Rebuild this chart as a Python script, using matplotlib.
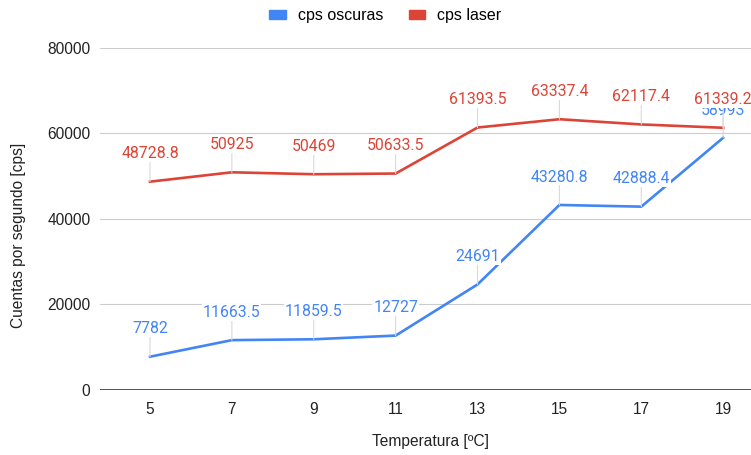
import matplotlib
matplotlib.use("Agg")
import matplotlib.pyplot as plt
from matplotlib.patches import Patch

temperatures = [5, 7, 9, 11, 13, 15, 17, 19]
cps_oscuras = [7782, 11663.5, 11859.5, 12727, 24691, 43280.8, 42888.4, 58993]
cps_laser = [48728.8, 50925, 50469, 50633.5, 61393.5, 63337.4, 62117.4, 61339.2]
y_ticks = [0, 20000, 40000, 60000, 80000]

BLUE = "#4285F4"
RED = "#DB4437"

fig = plt.figure(figsize=(7.51, 4.55), dpi=100)
ax = fig.add_axes([0.1332, 0.1429, 0.8668, 0.7516])

ax.set_xlim(3.78, 19.68)
ax.set_ylim(0, 80000)

# grid
for yt in y_ticks[1:]:
    ax.axhline(yt, color="#cccccc", lw=0.8, zorder=0)
ax.axhline(0, color="#333333", lw=1.2, zorder=1)

ax.plot(temperatures, cps_oscuras, color=BLUE, lw=1.9, zorder=3,
        solid_joinstyle="round", label="cps oscuras")
ax.plot(temperatures, cps_laser, color=RED, lw=1.9, zorder=3,
        solid_joinstyle="round", label="cps laser")


def fmt(v):
    return f"{v:g}"


def add_labels(values, color, z):
    for x, v in zip(temperatures, values):
        ax.annotate(fmt(v), xy=(x, v), xytext=(0, 20), textcoords="offset points",
                    ha="center", va="center", color=color, fontsize=11.4,
                    family="Roboto", zorder=z,
                    bbox=dict(boxstyle="square,pad=0.05", fc="white", ec="none"),
                    arrowprops=dict(arrowstyle="-", color="#d9d9d9", lw=0.8,
                                    shrinkA=0, shrinkB=0))


add_labels(cps_oscuras, BLUE, 4)
add_labels(cps_laser, RED, 5)

for s in ax.spines.values():
    s.set_visible(False)

ax.set_yticks(y_ticks)
ax.set_yticklabels([str(t) for t in y_ticks], family="Liberation Sans",
                   fontsize=11.2, color="#222222")
ax.set_xticks(temperatures)
ax.set_xticklabels([str(t) for t in temperatures], family="Liberation Sans",
                   fontsize=11.2, color="#222222")
ax.tick_params(axis="both", length=0)
ax.tick_params(axis="y", pad=7)
ax.tick_params(axis="x", pad=9)

fig.text(0.573, 0.03, "Temperatura [ºC]", ha="center", va="center",
         family="Liberation Sans", fontsize=11.2, color="#222222")
fig.text(0.024, 0.483, "Cuentas por segundo [cps]", ha="center", va="center",
         rotation=90, family="Liberation Sans", fontsize=11.2, color="#222222")

handles = [Patch(color=BLUE, label="cps oscuras"), Patch(color=RED, label="cps laser")]
fig.legend(handles=handles, loc="center", bbox_to_anchor=(0.513, 0.965), ncol=2,
           frameon=False, prop=dict(family="Liberation Sans", size=11.5),
           handlelength=1.05, handleheight=0.45, columnspacing=1.6, handletextpad=0.75)

fig.savefig("out.png", dpi=100)
